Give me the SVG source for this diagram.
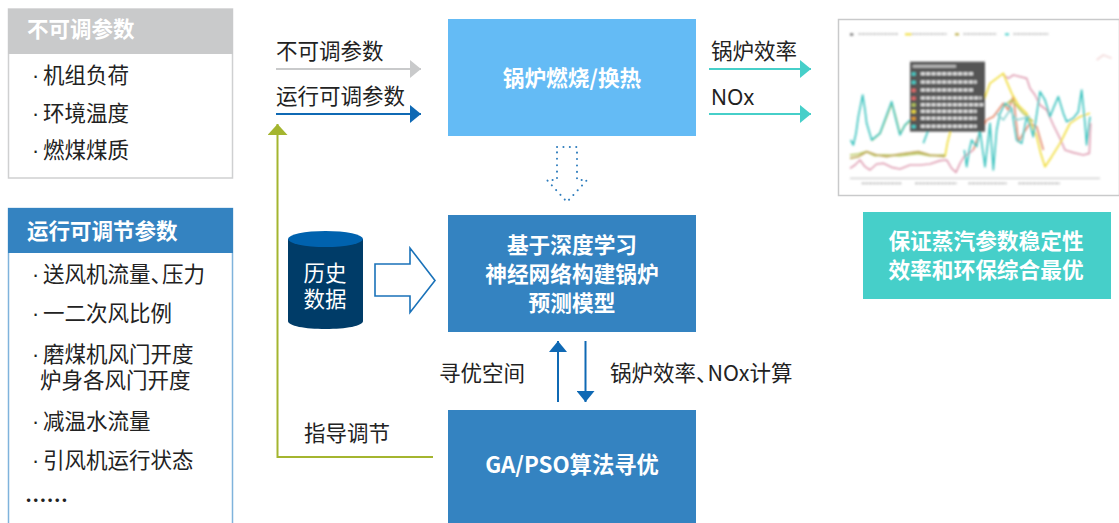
<svg xmlns="http://www.w3.org/2000/svg" width="1119" height="523" viewBox="0 0 1119 523">
<style>
text{font-family:"Noto Sans CJK SC","Noto Sans",sans-serif;font-size:21.5px;fill:#222}
.w{fill:#fff;font-weight:700;text-anchor:middle;font-size:21.7px}
.h{fill:#fff;font-weight:700}
.l{fill:#fff;text-anchor:middle}
.d{font-family:"Liberation Sans",sans-serif}
.n{letter-spacing:-10px}
.box{fill:#3483c1}
.c{fill:none;stroke-width:2}
.s{fill:none;stroke-width:5;stroke-linejoin:round}
.t{fill:none;stroke:#e6e6e6;stroke-width:9;stroke-dasharray:13 3}
.g{fill:none;stroke:#bdbdbd;stroke-width:5;stroke-dasharray:9 2}
</style>
<defs>
<marker id="ag" markerUnits="userSpaceOnUse" markerWidth="12" markerHeight="18" refX="11" refY="9" orient="auto"><path d="M0 0L11 9L0 18Z" fill="#c9cacb"/></marker>
<marker id="ab" markerUnits="userSpaceOnUse" markerWidth="12" markerHeight="18" refX="11" refY="9" orient="auto"><path d="M0 0L11 9L0 18Z" fill="#0f69b4"/></marker>
<marker id="at" markerUnits="userSpaceOnUse" markerWidth="12" markerHeight="18" refX="11" refY="9" orient="auto"><path d="M0 0L11 9L0 18Z" fill="#46cfc9"/></marker>
<marker id="av" markerUnits="userSpaceOnUse" markerWidth="12" markerHeight="20" refX="11" refY="10" orient="auto"><path d="M0 0L11 10L0 20Z" fill="#a4b52f"/></marker>
<filter id="b" x="-5%" y="-5%" width="110%" height="110%"><feGaussianBlur stdDeviation="3"/></filter>
</defs>

<g id="panel-fixed">
<rect x="8.500" y="9" width="224" height="169" fill="#fff" stroke="#cfd0d1" stroke-width="1.500"/>
<rect x="8" y="9" width="225" height="45" fill="#c9cacb"/>
<text class="h" x="27" y="37">不可调参数</text>
<text class="d" x="32" y="83">·</text><text x="43" y="83">机组负荷</text>
<text class="d" x="32" y="120.500">·</text><text x="43" y="120.500">环境温度</text>
<text class="d" x="32" y="157.500">·</text><text x="43" y="157.500">燃煤煤质</text>
</g>

<g id="panel-adjustable">
<path d="M8.500 523V208.500H232.500V523" fill="#fff" stroke="#7fb3dc" stroke-width="1.500"/>
<rect x="8" y="208" width="225" height="45" fill="#3483c1"/>
<text class="h" x="27" y="239">运行可调节参数</text>
<text class="d" x="32" y="282">·</text><text x="43" y="282">送风机流量<tspan class="n">、</tspan>压力</text>
<text class="d" x="32" y="321">·</text><text x="43" y="321">一二次风比例</text>
<text class="d" x="32" y="362">·</text><text x="43" y="362">磨煤机风门开度</text>
<text x="40" y="388">炉身各风门开度</text>
<text class="d" x="32" y="429">·</text><text x="43" y="429">减温水流量</text>
<text class="d" x="32" y="468">·</text><text x="43" y="468">引风机运行状态</text>
<text x="25" y="508" font-weight="700">……</text>
</g>

<g id="connectors">
<path class="c" d="M276 69H421" stroke="#c9cacb" marker-end="url(#ag)"/>
<path class="c" d="M276 114H421" stroke="#0f69b4" marker-end="url(#ab)"/>
<path class="c" d="M709 69H811" stroke="#46cfc9" marker-end="url(#at)"/>
<path class="c" d="M709 114H811" stroke="#46cfc9" marker-end="url(#at)"/>
<path class="c" d="M433 457H277.500V124" stroke="#a4b52f" marker-end="url(#av)"/>
<path class="c" d="M558 402V341" stroke="#0f69b4" marker-end="url(#ab)"/>
<path class="c" d="M585.500 341V402" stroke="#0f69b4" marker-end="url(#ab)"/>
</g>

<g id="connector-labels">
<text x="276" y="59">不可调参数</text>
<text x="276" y="104">运行可调参数</text>
<text x="711" y="59">锅炉效率</text>
<text x="711" y="105" style="font-family:'Noto Sans',sans-serif;font-size:21px">NOx</text>
<text x="439" y="381">寻优空间</text>
<text x="610" y="381">锅炉效率<tspan class="n">、</tspan>NOx计算</text>
<text x="304" y="441">指导调节</text>
</g>

<g id="node-combustion">
<rect x="448" y="19" width="248" height="117" fill="#64bbf5"/>
<text class="w" x="572" y="86">锅炉燃烧/换热</text>
</g>

<g id="arrow-dotted">
<path d="M557 147H577V180H587L567 202L547 180H557Z" fill="none" stroke="#2f7dbd" stroke-width="2" stroke-dasharray="0.1 6.300" stroke-linecap="round"/>
</g>

<g id="node-model">
<rect x="448" y="215" width="248" height="117" class="box"/>
<text class="w" x="572" y="253">基于深度学习</text>
<text class="w" x="572" y="282">神经网络构建锅炉</text>
<text class="w" x="572" y="311">预测模型</text>
</g>

<g id="node-history">
<path d="M288 239V321C288 326 305 329 325.500 329S363 326 363 321V239Z" fill="#003c68"/>
<ellipse cx="325.500" cy="239" rx="37.500" ry="8" fill="#0062ae"/>
<text class="l" x="325" y="281">历史</text>
<text class="l" x="325" y="307">数据</text>
</g>

<g id="arrow-hollow">
<path d="M375 264H410V248L435 280.500L410 312.500V296H375Z" fill="#fff" stroke="#1a72b9" stroke-width="1.600"/>
</g>

<g id="node-search">
<rect x="448" y="410" width="248" height="113" class="box"/>
<text class="w" x="572" y="473" style="font-size:22.300px">GA/PSO算法寻优</text>
</g>

<g id="chart">
<rect x="838.500" y="19.500" width="281" height="176" fill="#fff" stroke="#c9cacb" stroke-width="1.500"/>
<g transform="translate(830 10) scale(.33333)" filter="url(#b)">
<path class="s" stroke="#e0a0b4" d="M520 195L535 205L550 195L590 205L600 235L615 255L630 285L650 300L670 345L690 385L705 420L730 428L760 435L778 430L782 340M60 475L75 465L90 450L105 470L120 480L140 462L160 460L185 472L210 477L240 465L270 465L300 462L330 452L350 450L365 475L378 487L390 460L402 440L430 420"/>
<path class="s" stroke="#e58c6e" d="M430 420L445 380L470 330L490 320L520 280L535 300L550 260L565 395L580 370L600 340L620 350L640 420"/>
<path class="s" stroke="#f1dd3a" d="M345 440L352 400L365 350L385 330L440 320L462 270L480 220L500 205L520 190L530 215L545 250L565 285L590 310L605 345L620 380L632 430L645 470L665 440L690 400L705 370L720 340L750 320L780 310"/>
<path class="s" stroke="#b7c65c" d="M60 435L85 432L110 425L135 437L160 435L210 437L265 430L300 437L345 435M125 392L150 370L170 320L185 280L197 320L210 372L225 345L240 335M520 290L545 270L580 310L610 335"/>
<path class="s" stroke="#bfa95a" d="M60 445L85 440L110 425L140 435L170 440L210 432L265 425L300 435L345 440"/>
<path class="s" stroke="#3fc4c0" d="M62 390L70 405L78 370L85 320L98 255L105 300L110 340L125 390L150 370L170 315L185 275L197 325L210 375L225 345L240 330M280 400L295 360M403 420L410 470L418 420L425 390L440 410L450 360L458 420L465 470L480 340L490 480L500 360L510 310L525 280L545 295L552 340L560 390L575 400L590 320L600 345L610 380L622 300L630 245L645 270L660 320L672 290L685 260L700 310L710 335L730 325L745 305L755 240L765 340L770 405L780 320"/>
<path class="s" stroke="#8fd4d2" d="M500 310L520 330L540 300L560 330L600 320"/>
<path class="s" stroke="#f3dcdc" d="M800 150L820 135L845 145"/>
<rect x="240" y="155" width="225" height="210" fill="#555"/>
<rect x="248" y="165" width="130" height="8" fill="#bbb"/>
<path class="t" d="M272 191H430M272 216H440M272 240H430M272 264H455M272 284H460M272 304H440M272 325H440M272 349H440"/>
<rect x="245" y="187" width="12" height="10" fill="#46cfc9"/><rect x="245" y="212" width="12" height="10" fill="#46cfc9"/><rect x="245" y="236" width="12" height="10" fill="#e46a6a"/><rect x="245" y="260" width="12" height="10" fill="#e46a6a"/><rect x="245" y="280" width="12" height="10" fill="#b7c65c"/><rect x="245" y="300" width="12" height="10" fill="#f1dd3a"/><rect x="245" y="321" width="12" height="10" fill="#e59b2f"/><rect x="245" y="345" width="12" height="10" fill="#46cfc9"/>
<path class="g" d="M85 72H205M245 72H350M400 72H500M550 72H655M95 520H215M255 520H380M415 520H530M565 520H690"/>
<path stroke="#c9c9c9" stroke-width="4" d="M60 505H810"/>
<rect x="60" y="70" width="10" height="7" fill="#777"/><rect x="225" y="70" width="20" height="6" fill="#f1dd3a"/><rect x="375" y="70" width="12" height="6" fill="#b7a83a"/><rect x="525" y="70" width="12" height="6" fill="#46cfc9"/>
</g>
</g>

<g id="node-goal">
<rect x="863" y="212" width="248" height="87" fill="#46cfc9"/>
<text class="w" x="986" y="249">保证蒸汽参数稳定性</text>
<text class="w" x="986" y="278">效率和环保综合最优</text>
</g>
</svg>
